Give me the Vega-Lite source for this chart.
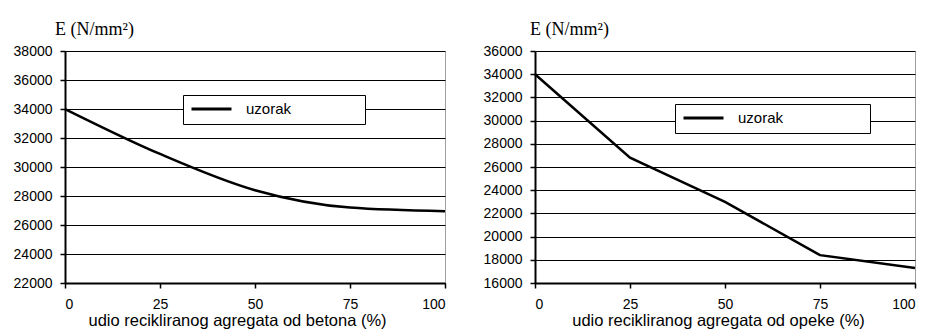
{
  "$schema": "https://vega.github.io/schema/vega-lite/v6.json",
  "background": "white",
  "padding": {"left": 12, "top": 20, "right": 12, "bottom": 0},
  "spacing": 31,
  "datasets": {
    "beton": [
      {"udio": 0, "E": 34000},
      {"udio": 25, "E": 30900},
      {"udio": 50, "E": 28400},
      {"udio": 75, "E": 27200},
      {"udio": 100, "E": 26950}
    ],
    "opeka": [
      {"udio": 0, "E": 34000},
      {"udio": 25, "E": 26800},
      {"udio": 50, "E": 23000},
      {"udio": 75, "E": 18400},
      {"udio": 100, "E": 17300}
    ]
  },
  "config": {
    "view": {"stroke": "#a0a0a0", "strokeWidth": 1},
    "axis": {
      "labelFont": "Liberation Sans",
      "labelFontSize": 14,
      "labelColor": "black",
      "titleFont": "Liberation Sans",
      "titleFontWeight": "normal",
      "titleColor": "black",
      "domainColor": "black",
      "domainWidth": 2,
      "tickColor": "black",
      "tickWidth": 1.5,
      "tickSize": 5,
      "gridColor": "black",
      "gridWidth": 1,
      "gridOpacity": 1
    },
    "title": {
      "font": "Liberation Serif",
      "fontSize": 18,
      "fontWeight": "normal",
      "color": "black",
      "anchor": "start",
      "frame": "group"
    },
    "legend": {
      "orient": "none",
      "strokeColor": "black",
      "fillColor": "white",
      "padding": 7,
      "symbolType": "stroke",
      "symbolStrokeWidth": 3,
      "symbolSize": 1600,
      "clipHeight": 14,
      "labelOffset": 13,
      "labelFont": "Liberation Sans",
      "labelFontSize": 15,
      "labelColor": "black",
      "labelLimit": 400
    }
  },
  "hconcat": [
    {
      "width": 380,
      "height": 232,
      "title": {"text": "E (N/mm²)", "dx": -10, "offset": 5},
      "data": {"name": "beton"},
      "mark": {"type": "line", "interpolate": "monotone", "strokeWidth": 2.5},
      "encoding": {
        "x": {
          "field": "udio", "type": "quantitative",
          "scale": {"domain": [0, 100], "nice": false},
          "axis": {"values": [0, 25, 50, 75, 100], "grid": false, "labelPadding": 9, "title": "udio recikliranog agregata od betona (%)", "titleFontSize": 16.5, "titlePadding": 1, "titleX": 172}
        },
        "y": {
          "field": "E", "type": "quantitative",
          "scale": {"domain": [22000, 38000], "nice": false, "zero": false},
          "axis": {"values": [22000, 24000, 26000, 28000, 30000, 32000, 34000, 36000, 38000], "format": "d", "labelPadding": 8, "title": null}
        },
        "color": {
          "datum": "uzorak",
          "scale": {"range": ["black"]},
          "legend": {"title": null, "legendX": 118, "legendY": 44, "labelExpr": "datum.label + '\u00a0\u00a0\u00a0\u00a0\u00a0\u00a0\u00a0\u00a0\u00a0\u00a0\u00a0\u00a0\u00a0\u00a0\u00a0\u00a0\u200b'"}
        }
      }
    },
    {
      "width": 380,
      "height": 232,
      "title": {"text": "E (N/mm²)", "dx": -5, "offset": 5},
      "data": {"name": "opeka"},
      "mark": {"type": "line", "interpolate": "linear", "strokeWidth": 2.5},
      "encoding": {
        "x": {
          "field": "udio", "type": "quantitative",
          "scale": {"domain": [0, 100], "nice": false},
          "axis": {"values": [0, 25, 50, 75, 100], "grid": false, "labelPadding": 9, "title": "udio recikliranog agregata od opeke (%)", "titleFontSize": 16.5, "titlePadding": 1, "titleX": 183}
        },
        "y": {
          "field": "E", "type": "quantitative",
          "scale": {"domain": [16000, 36000], "nice": false, "zero": false},
          "axis": {"values": [16000, 18000, 20000, 22000, 24000, 26000, 28000, 30000, 32000, 34000, 36000], "format": "d", "labelPadding": 8, "title": null}
        },
        "color": {
          "datum": "uzorak",
          "scale": {"range": ["black"]},
          "legend": {"title": null, "legendX": 140, "legendY": 53, "labelExpr": "datum.label + '\u00a0\u00a0\u00a0\u00a0\u00a0\u00a0\u00a0\u00a0\u00a0\u00a0\u00a0\u00a0\u00a0\u00a0\u00a0\u00a0\u00a0\u00a0\u00a0\u200b'"}
        }
      }
    }
  ],
  "resolve": {"scale": {"color": "independent"}, "legend": {"color": "independent"}}
}
